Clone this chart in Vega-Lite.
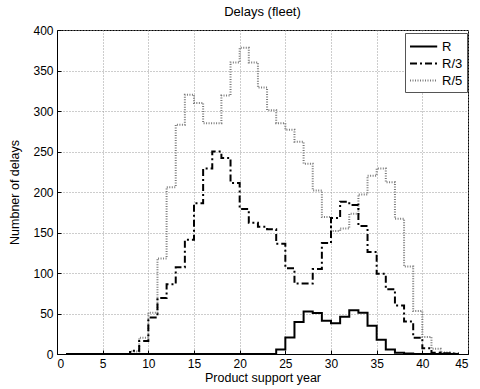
{
  "$schema": "https://vega.github.io/schema/vega-lite/v6.json",
  "width": 411,
  "height": 324,
  "autosize": {"type": "none"},
  "padding": {"left": 57, "top": 30, "right": 12, "bottom": 35},
  "background": "white",
  "title": {"text": "Delays (fleet)", "fontSize": 13, "fontWeight": "normal", "font": "Liberation Sans", "color": "black", "offset": 5},
  "config": {
    "view": {"stroke": "black", "strokeWidth": 1},
    "axis": {
      "labelFont": "Liberation Sans",
      "labelFontSize": 12,
      "labelColor": "black",
      "titleFont": "Liberation Sans",
      "titleFontSize": 12.5,
      "titleFontWeight": "normal",
      "titleColor": "black",
      "domainColor": "black",
      "tickColor": "black",
      "tickSize": -4,
      "grid": true,
      "gridColor": "#9a9a9a",
      "gridDash": [1, 2],
      "gridOpacity": 1,
      "gridWidth": 1
    }
  },
  "data": {
    "values": [
      {"x": 1, "R": 0, "R/3": 0, "R/5": 0},
      {"x": 2, "R": 0, "R/3": 0, "R/5": 0},
      {"x": 3, "R": 0, "R/3": 0, "R/5": 0},
      {"x": 4, "R": 0, "R/3": 0, "R/5": 0},
      {"x": 5, "R": 0, "R/3": 0, "R/5": 0},
      {"x": 6, "R": 0, "R/3": 0, "R/5": 0},
      {"x": 7, "R": 0, "R/3": 0, "R/5": 0},
      {"x": 8, "R": 0, "R/3": 4, "R/5": 3},
      {"x": 9, "R": 0, "R/3": 16, "R/5": 20},
      {"x": 10, "R": 0, "R/3": 45, "R/5": 51},
      {"x": 11, "R": 0, "R/3": 69, "R/5": 118},
      {"x": 12, "R": 0, "R/3": 86, "R/5": 206},
      {"x": 13, "R": 0, "R/3": 107, "R/5": 283},
      {"x": 14, "R": 0, "R/3": 141, "R/5": 320},
      {"x": 15, "R": 0, "R/3": 186, "R/5": 310},
      {"x": 16, "R": 0, "R/3": 229, "R/5": 285},
      {"x": 17, "R": 0, "R/3": 250, "R/5": 285},
      {"x": 18, "R": 0, "R/3": 242, "R/5": 319},
      {"x": 19, "R": 0, "R/3": 211, "R/5": 360},
      {"x": 20, "R": 0, "R/3": 179, "R/5": 378},
      {"x": 21, "R": 0, "R/3": 162, "R/5": 360},
      {"x": 22, "R": 0, "R/3": 157, "R/5": 329},
      {"x": 23, "R": 0, "R/3": 154, "R/5": 301},
      {"x": 24, "R": 5.5, "R/3": 136, "R/5": 285},
      {"x": 25, "R": 20.5, "R/3": 106, "R/5": 277},
      {"x": 26, "R": 39.5, "R/3": 87, "R/5": 262},
      {"x": 27, "R": 52.5, "R/3": 87, "R/5": 235},
      {"x": 28, "R": 50.5, "R/3": 105, "R/5": 202},
      {"x": 29, "R": 41, "R/3": 137, "R/5": 169},
      {"x": 30, "R": 38, "R/3": 168, "R/5": 152},
      {"x": 31, "R": 46, "R/3": 188, "R/5": 155},
      {"x": 32, "R": 54, "R/3": 184, "R/5": 173},
      {"x": 33, "R": 51, "R/3": 158, "R/5": 197},
      {"x": 34, "R": 35, "R/3": 126, "R/5": 220},
      {"x": 35, "R": 17.5, "R/3": 99, "R/5": 229},
      {"x": 36, "R": 5.5, "R/3": 80, "R/5": 212},
      {"x": 37, "R": 1.5, "R/3": 60, "R/5": 167},
      {"x": 38, "R": 0.5, "R/3": 40, "R/5": 108},
      {"x": 39, "R": 0, "R/3": 20, "R/5": 53},
      {"x": 40, "R": 0, "R/3": 7, "R/5": 21},
      {"x": 41, "R": 0, "R/3": 1.5, "R/5": 6.5},
      {"x": 42, "R": 0, "R/3": 0.8, "R/5": 2},
      {"x": 43, "R": 0, "R/3": 0.5, "R/5": 0.5},
      {"x": 44, "R": 0, "R/3": 0.5, "R/5": 0.5}
    ]
  },
  "transform": [{"fold": ["R/5", "R/3", "R"], "as": ["series", "delays"]}],
  "mark": {"type": "line", "interpolate": "step-after", "clip": true},
  "encoding": {
    "x": {
      "field": "x", "type": "quantitative",
      "scale": {"domain": [0, 45], "nice": false, "zero": false},
      "axis": {"values": [0, 5, 10, 15, 20, 25, 30, 35, 40, 45], "title": "Product support year", "titlePadding": 2, "labelPadding": 8}
    },
    "y": {
      "field": "delays", "type": "quantitative",
      "scale": {"domain": [0, 400], "nice": false},
      "axis": {"values": [0, 50, 100, 150, 200, 250, 300, 350, 400], "title": "Numbner of delays", "titlePadding": 11, "labelPadding": 8}
    },
    "color": {
      "field": "series", "type": "nominal",
      "scale": {"domain": ["R", "R/3", "R/5"], "range": ["#000000", "#000000", "#7a7a7a"]},
      "legend": {
        "title": null, "orient": "none", "legendX": 348, "legendY": 3,
        "strokeColor": "#555555", "fillColor": "white", "padding": 4,
        "labelFont": "Liberation Sans", "labelFontSize": 13, "labelColor": "black",
        "symbolType": "M-1,0L2.2,0", "symbolSize": 289, "rowPadding": 0, "labelOffset": 14
      }
    },
    "strokeDash": {
      "field": "series", "type": "nominal",
      "scale": {"domain": ["R", "R/3", "R/5"], "range": [[1, 0], [7, 3, 2, 3], [1, 1.5]]}
    },
    "strokeWidth": {
      "field": "series", "type": "nominal",
      "scale": {"domain": ["R", "R/3", "R/5"], "range": [2, 2, 1]}
    },
    "order": {"field": "series", "sort": "descending"}
  }
}
